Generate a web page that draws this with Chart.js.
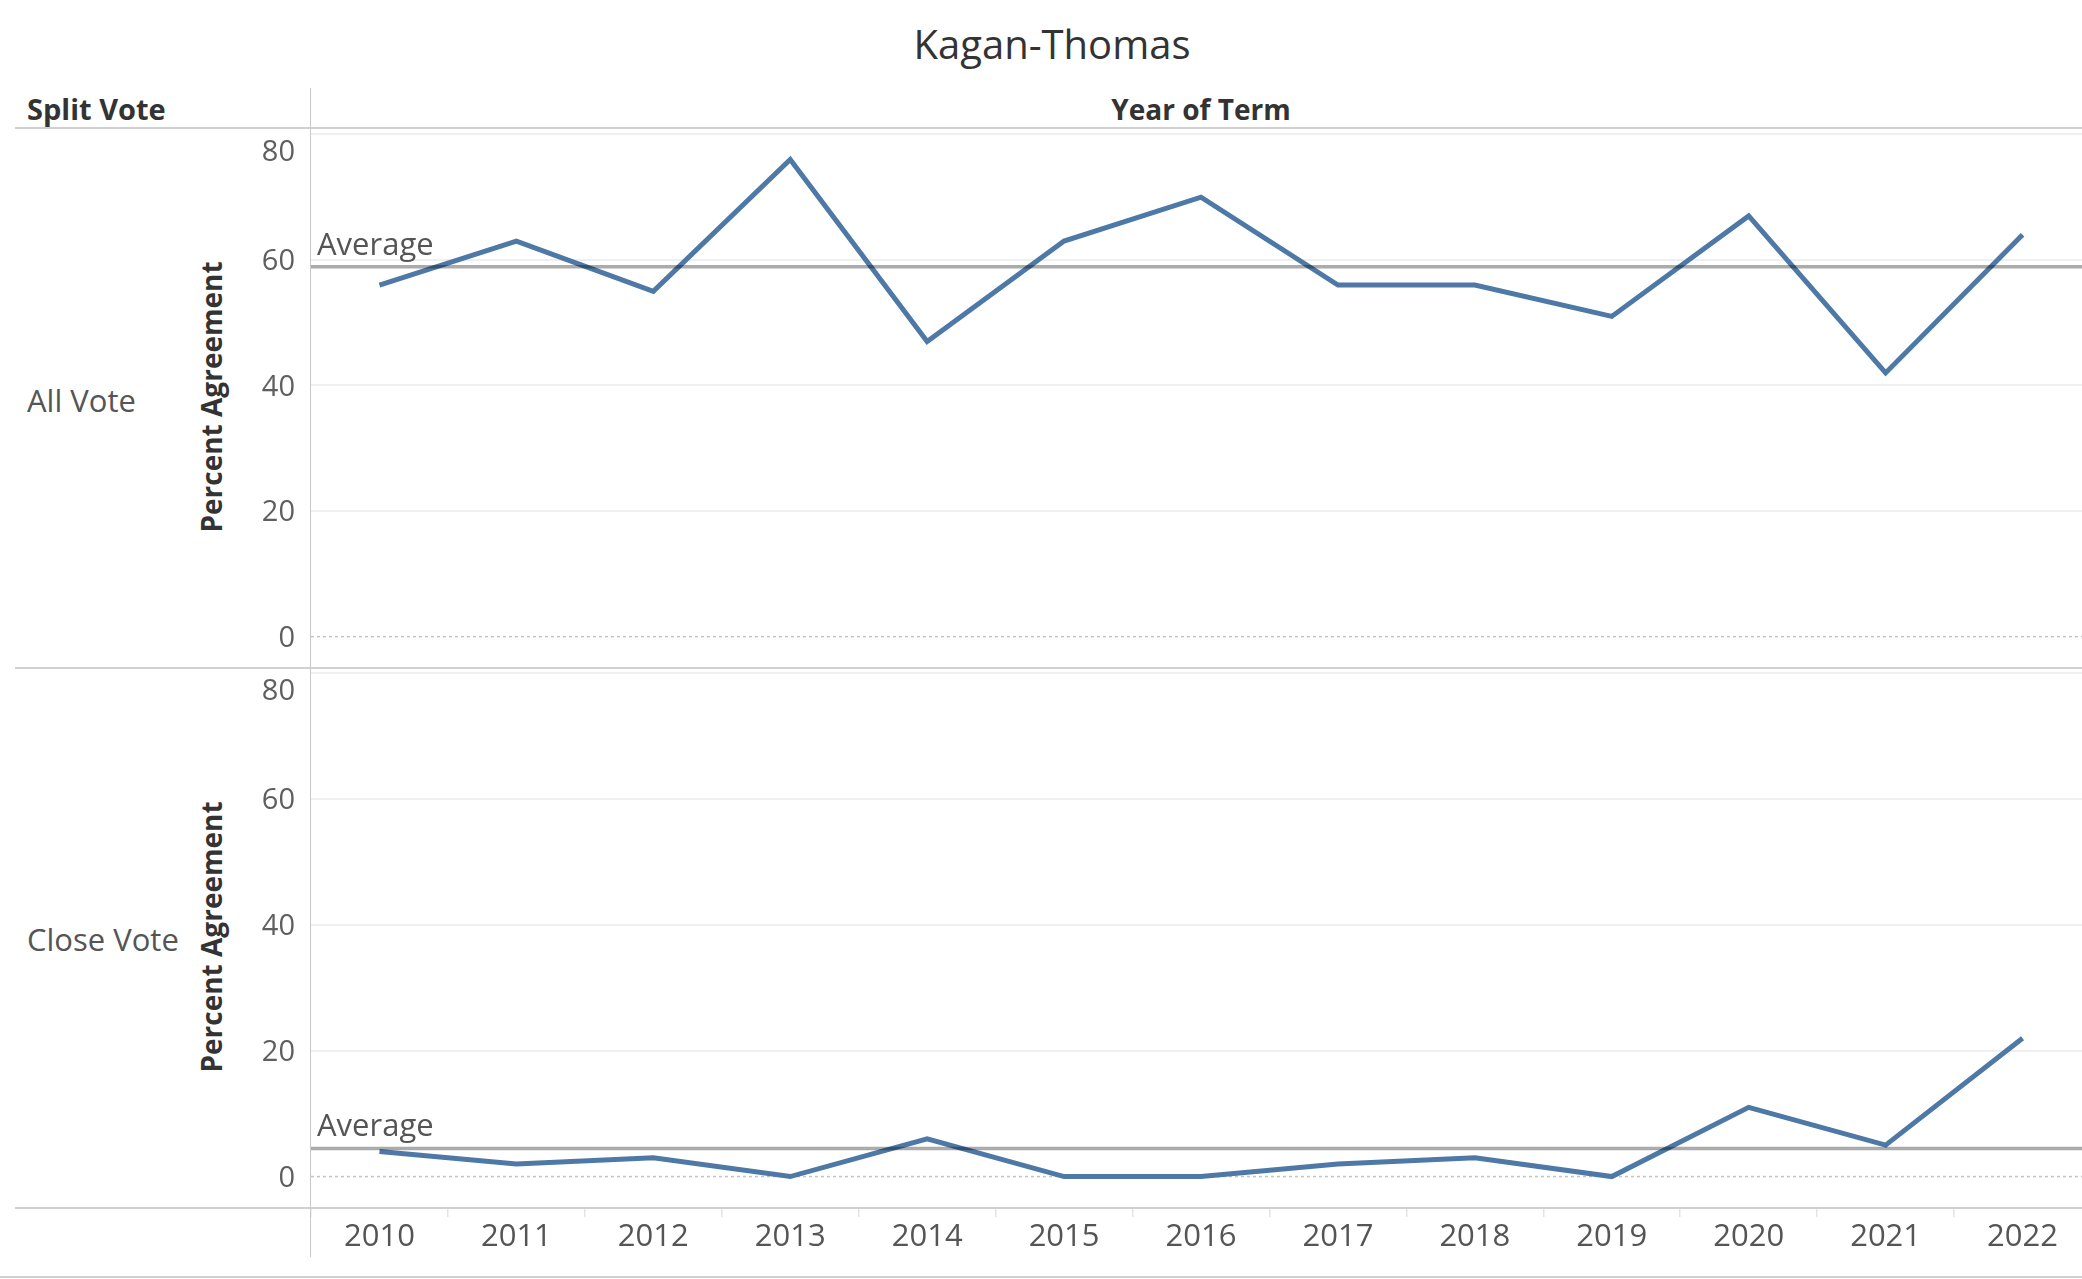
<!DOCTYPE html>
<html>
<head>
<meta charset="utf-8">
<script src="https://cdn.jsdelivr.net/npm/chart.js@4.4.1/dist/chart.umd.min.js"></script>
<style>
  html, body { margin:0; padding:0; width:2082px; height:1279px; overflow:hidden; background:#fff; font-family:'Open Sans', sans-serif; }
  .t { position:absolute; white-space:nowrap; line-height:1; }
  .hl { position:absolute; height:2px; background:#d0d0d0; }
  .vl { position:absolute; width:1px; background:#c8c8c8; }
  canvas { position:absolute; }
</style>
</head>
<body>
<div class="t" id="title" style="left:1052px; top:44px; transform:translate(-50%,-50%); font-size:40px; color:#333;"></div>
<div class="t" id="rowHeader" style="left:27px; top:108px; transform:translateY(-50%); font-size:29px; font-weight:700; color:#333;"></div>
<div class="t" id="colHeader" style="left:1201px; top:109px; transform:translate(-50%,-50%); font-size:28px; font-weight:700; color:#333;"></div>
<div class="t" id="row0" style="left:27px; top:400px; transform:translateY(-50%); font-size:31px; color:#555;"></div>
<div class="t" id="row1" style="left:27px; top:939px; transform:translateY(-50%); font-size:31px; color:#555;"></div>
<div class="t" id="ytitle0" style="left:211px; top:397px; transform:translate(-50%,-50%) rotate(-90deg); font-size:28px; font-weight:700; color:#333;"></div>
<div class="t" id="ytitle1" style="left:211px; top:937px; transform:translate(-50%,-50%) rotate(-90deg); font-size:28px; font-weight:700; color:#333;"></div>

<canvas id="c0" width="1931" height="539" style="left:160px; top:129px; width:1931px; height:539px;"></canvas>
<canvas id="c1" width="1931" height="611" style="left:160px; top:668px; width:1931px; height:611px;"></canvas>

<div class="hl" style="left:15px; top:127px; width:2067px;"></div>
<div class="hl" style="left:15px; top:667px; width:2067px;"></div>
<div class="hl" style="left:15px; top:1207px; width:2067px;"></div>
<div class="hl" style="left:0px; top:1276px; width:2082px;"></div>
<div class="vl" style="left:310px; top:88px; height:1169px;"></div>

<script>
// ---- data ----
const chartTitle = 'Kagan-Thomas';
const rowHeader = 'Split Vote';
const colHeader = 'Year of Term';
const rowLabels = ['All Vote', 'Close Vote'];
const yAxisTitle = 'Percent Agreement';
const averageLabel = 'Average';
const years = ['2010','2011','2012','2013','2014','2015','2016','2017','2018','2019','2020','2021','2022'];
const allVote = [56, 63, 55, 76, 47, 63, 70, 56, 56, 51, 67, 42, 64];
const closeVote = [4, 2, 3, 0, 6, 0, 0, 2, 3, 0, 11, 5, 22];
const yTicks = [0, 20, 40, 60, 80];
const yMin = -5;
const yMax = 80.85;

document.getElementById('title').textContent = chartTitle;
document.getElementById('rowHeader').textContent = rowHeader;
document.getElementById('colHeader').textContent = colHeader;
document.getElementById('row0').textContent = rowLabels[0];
document.getElementById('row1').textContent = rowLabels[1];
document.getElementById('ytitle0').textContent = yAxisTitle;
document.getElementById('ytitle1').textContent = yAxisTitle;

Chart.defaults.font.family = "'Open Sans', sans-serif";

const panelPlugin = {
  id: 'panel',
  beforeDatasetsDraw(chart) {
    const { ctx, chartArea: a, scales: { y } } = chart;
    const y0 = y.getPixelForValue(0);
    ctx.save();
    ctx.strokeStyle = '#c4c4c4';
    ctx.lineWidth = 1.5;
    ctx.setLineDash([3, 3]);
    ctx.beginPath();
    ctx.moveTo(a.left, y0);
    ctx.lineTo(a.right, y0);
    ctx.stroke();
    ctx.restore();
  },
  afterDatasetsDraw(chart) {
    const { ctx, chartArea: a, scales: { y } } = chart;
    const data = chart.data.datasets[0].data;
    const avg = data.reduce((s, v) => s + v, 0) / data.length;
    const py = y.getPixelForValue(avg);
    ctx.save();
    ctx.strokeStyle = 'rgba(0,0,0,0.33)';
    ctx.lineWidth = 3.5;
    ctx.beginPath();
    ctx.moveTo(a.left, py);
    ctx.lineTo(a.right, py);
    ctx.stroke();
    ctx.fillStyle = '#555';
    ctx.font = "31px 'Open Sans', sans-serif";
    ctx.textAlign = 'left';
    ctx.textBaseline = 'alphabetic';
    ctx.fillText(averageLabel, a.left + 6, py - 12);
    ctx.restore();
  },
  afterDraw(chart) {
    const { ctx, chartArea: a, scales: { y } } = chart;
    ctx.save();
    ctx.fillStyle = '#5f5f5f';
    ctx.font = "29px 'Open Sans', sans-serif";
    ctx.textAlign = 'right';
    ctx.textBaseline = 'middle';
    yTicks.forEach(v => {
      let p = y.getPixelForValue(v);
      p = Math.max(p, a.top + 22);
      p = Math.min(p, a.bottom - 16);
      ctx.fillText(String(v), a.left - 16, p + 2);
    });
    ctx.restore();
  }
};

function makeChart(id, values, showX) {
  return new Chart(document.getElementById(id), {
    type: 'line',
    data: {
      labels: years,
      datasets: [{
        data: values,
        borderColor: '#4e79a7',
        borderWidth: 5,
        pointRadius: 0,
        pointHoverRadius: 0,
        tension: 0,
        borderJoinStyle: 'miter',
        fill: false
      }]
    },
    options: {
      responsive: false,
      animation: false,
      devicePixelRatio: 1,
      layout: { padding: 0 },
      plugins: { legend: { display: false }, tooltip: { enabled: false }, title: { display: false } },
      scales: {
        x: {
          type: 'category',
          display: showX,
          offset: true,
          grid: { display: true, drawOnChartArea: false, drawTicks: true, tickLength: 9, offset: true, color: '#e4e4e4', lineWidth: 1.5 },
          border: { display: false },
          ticks: { color: '#555', font: { size: 31 }, padding: 2, maxRotation: 0, autoSkip: false },
          afterFit(scale) { if (showX) { scale.height = 71; } else { scale.height = 0; } }
        },
        y: {
          min: yMin,
          max: yMax,
          afterBuildTicks(scale) { scale.ticks = yTicks.map(v => ({ value: v })); },
          grid: {
            color: ctx => (ctx.tick && ctx.tick.value === 0) ? 'rgba(0,0,0,0)' : '#efefef',
            lineWidth: 2,
            drawTicks: false
          },
          border: { display: false },
          ticks: { display: false },
          afterFit(scale) { scale.width = 151; }
        }
      }
    },
    plugins: [panelPlugin]
  });
}

makeChart('c0', allVote, false);
makeChart('c1', closeVote, true);
</script>
</body>
</html>
